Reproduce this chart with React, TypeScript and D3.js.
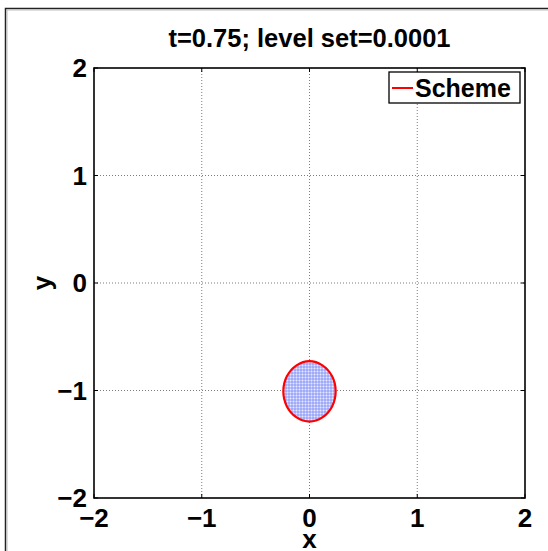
import React from "react";
import * as d3 from "d3";

const titleText = "t=0.75; level set=0.0001";
const xTicks = [-2, -1, 0, 1, 2];
const yTicks = [-2, -1, 0, 1, 2];
const gridVals = [-1, 0, 1];
const legendLabel = "Scheme";
// level-set contour
const contourX = [0, 0.12, 0.21, 0.243, 0.21, 0.12, 0, -0.12, -0.21, -0.243, -0.21, -0.12];
const contourY = [-0.727, -0.766, -0.868, -1.008, -1.148, -1.25, -1.289, -1.25, -1.148, -1.008, -0.868, -0.766];

const W = 548, H = 551;
const L = 94, R = 525, T = 68, B = 498;
const FONT = "'Liberation Sans', Arial, Helvetica, sans-serif";

const fmt = (v: number) => (v < 0 ? "\u2212" + Math.abs(v) : String(v));

export default function App() {
  const x = d3.scaleLinear().domain([-2, 2]).range([L, R]);
  const y = d3.scaleLinear().domain([-2, 2]).range([B, T]);
  const pts: [number, number][] = contourX.map((cx, i) => [cx, contourY[i]]);
  const line = d3
    .line<[number, number]>()
    .x((d) => x(d[0]))
    .y((d) => y(d[1]))
    .curve(d3.curveCatmullRomClosed.alpha(0.5));
  const path = line(pts) || "";
  const tickLen = 4;
  return (
    <svg
      width={W}
      height={H}
      style={{ position: "absolute", left: 0, top: 0, background: "#fff" }}
      fontFamily={FONT}
    >
      <defs>
        <pattern id="mesh" patternUnits="userSpaceOnUse" width={3} height={3} x={x(0)} y={y(-1)}>
          <rect width={3} height={3} fill="#e8ebff" />
          <line x1={0.5} y1={0} x2={0.5} y2={3} stroke="#5a6cf5" strokeWidth={1} strokeOpacity={0.6} />
          <line x1={0} y1={0.5} x2={3} y2={0.5} stroke="#5a6cf5" strokeWidth={1} strokeOpacity={0.6} />
        </pattern>
      </defs>
      {/* figure frame */}
      <path d={`M5.5,${H + 5} V8.5 H${W + 5}`} fill="none" stroke="#222" strokeWidth={1.5} />
      <path d={`M7,${H + 5} V10 H${W + 5}`} fill="none" stroke="#bbb" strokeWidth={1} />

      {/* grid */}
      {gridVals.map((v) => (
        <g key={"g" + v}>
          <line x1={x(v)} x2={x(v)} y1={T} y2={B} stroke="#444" strokeWidth={0.7} strokeDasharray="1,2" />
          <line x1={L} x2={R} y1={y(v)} y2={y(v)} stroke="#444" strokeWidth={0.7} strokeDasharray="1,2" />
        </g>
      ))}

      {/* contour */}
      <path d={path} fill="url(#mesh)" stroke="#ff0000" strokeWidth={2.2} />

      {/* axes box */}
      <rect x={L} y={T} width={R - L} height={B - T} fill="none" stroke="#000" strokeWidth={1.6} />
      {xTicks.map((v) => (
        <g key={"xt" + v}>
          <line x1={x(v)} x2={x(v)} y1={B} y2={B - tickLen} stroke="#000" />
          <line x1={x(v)} x2={x(v)} y1={T} y2={T + tickLen} stroke="#000" />
          <text x={x(v)} y={527} textAnchor="middle" fontSize={26} fontWeight="bold">
            {fmt(v)}
          </text>
        </g>
      ))}
      {yTicks.map((v) => (
        <g key={"yt" + v}>
          <line x1={L} x2={L + tickLen} y1={y(v)} y2={y(v)} stroke="#000" />
          <line x1={R} x2={R - tickLen} y1={y(v)} y2={y(v)} stroke="#000" />
          <text x={87} y={y(v) + 9} textAnchor="end" fontSize={26} fontWeight="bold">
            {fmt(v)}
          </text>
        </g>
      ))}

      {/* labels */}
      <text x={(L + R) / 2} y={47} textAnchor="middle" fontSize={25.5} fontWeight="bold">
        {titleText}
      </text>
      <text x={(L + R) / 2} y={548} textAnchor="middle" fontSize={26} fontWeight="bold">
        x
      </text>
      <text
        transform={`translate(51,${(T + B) / 2}) rotate(-90)`}
        textAnchor="middle"
        fontSize={26}
        fontWeight="bold"
      >
        y
      </text>

      {/* legend */}
      <rect x={389} y={72} width={131} height={31} fill="#fff" stroke="#000" strokeWidth={1.3} />
      <line x1={392} x2={413} y1={88} y2={88} stroke="#ff0000" strokeWidth={2} />
      <text x={415} y={97} fontSize={25} fontWeight="bold">
        {legendLabel}
      </text>
    </svg>
  );
}
